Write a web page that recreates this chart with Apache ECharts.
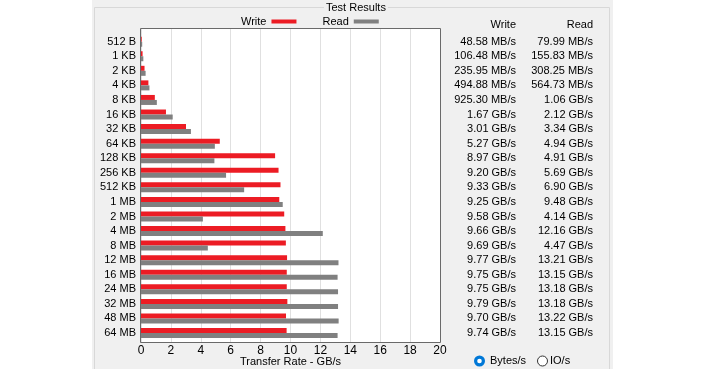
<!DOCTYPE html>
<html><head><meta charset="utf-8">
<script src="https://cdn.jsdelivr.net/npm/echarts@6/dist/echarts.min.js"></script>
<style>html,body{margin:0;padding:0;background:#fff}#c{width:708px;height:369px}</style>
</head><body><div id="c"></div>
<script>
const categories = ['512 B','1 KB','2 KB','4 KB','8 KB','16 KB','32 KB','64 KB','128 KB','256 KB','512 KB','1 MB','2 MB','4 MB','8 MB','12 MB','16 MB','24 MB','32 MB','48 MB','64 MB'];
const writeGBs = [0.04858,0.10648,0.23595,0.49488,0.9253,1.67,3.01,5.27,8.97,9.20,9.33,9.25,9.58,9.66,9.69,9.77,9.75,9.75,9.79,9.70,9.74];
const readGBs = [0.07999,0.15583,0.30825,0.56473,1.06,2.12,3.34,4.94,4.91,5.69,6.90,9.48,4.14,12.16,4.47,13.21,13.15,13.18,13.18,13.22,13.15];
const writeText = ['48.58 MB/s','106.48 MB/s','235.95 MB/s','494.88 MB/s','925.30 MB/s','1.67 GB/s','3.01 GB/s','5.27 GB/s','8.97 GB/s','9.20 GB/s','9.33 GB/s','9.25 GB/s','9.58 GB/s','9.66 GB/s','9.69 GB/s','9.77 GB/s','9.75 GB/s','9.75 GB/s','9.79 GB/s','9.70 GB/s','9.74 GB/s'];
const readText = ['79.99 MB/s','155.83 MB/s','308.25 MB/s','564.73 MB/s','1.06 GB/s','2.12 GB/s','3.34 GB/s','4.94 GB/s','4.91 GB/s','5.69 GB/s','6.90 GB/s','9.48 GB/s','4.14 GB/s','12.16 GB/s','4.47 GB/s','13.21 GB/s','13.15 GB/s','13.18 GB/s','13.18 GB/s','13.22 GB/s','13.15 GB/s'];
const xMin = 0, xMax = 20, xStep = 2;

const FONT = '"Liberation Sans", Arial, sans-serif';
const PLOT = {left:141, top:29, width:299, height:313};
const BANDS = {top:34.4, height:305.9};
const RED = '#ec1c24', GRAY = '#808080';

const chart = echarts.init(document.getElementById('c'), null, {renderer:'canvas'});
chart.setOption({
  animation:false,
  backgroundColor:'#fff',
  textStyle:{fontFamily:FONT},
  title:{text:'Test Results', left:324, top:1, padding:[1,2], backgroundColor:'#f0f0f0',
    textStyle:{fontSize:11, fontWeight:'normal', color:'#000', fontFamily:FONT}},
  legend:{data:['Write','Read'], left:236, top:11, align:'right', icon:'rect', itemWidth:25, itemHeight:4, itemGap:26,
    textStyle:{fontSize:11, color:'#000', fontFamily:FONT}},
  grid:[
    {left:PLOT.left, top:PLOT.top, width:PLOT.width, height:PLOT.height, show:true, backgroundColor:'#fff', borderWidth:0, containLabel:false, outerBoundsMode:'none'},
    {left:PLOT.left, top:BANDS.top, width:PLOT.width, height:BANDS.height, show:false, containLabel:false, outerBoundsMode:'none'}
  ],
  xAxis:[
    {gridIndex:0, type:'value', min:xMin, max:xMax, interval:xStep, position:'bottom',
      axisLine:{show:false, onZero:false}, axisTick:{show:false},
      splitLine:{show:true, lineStyle:{color:'#e0e0e0'}},
      axisLabel:{fontSize:12, color:'#000', margin:3, fontFamily:FONT},
      name:'Transfer Rate - GB/s', nameLocation:'middle', nameGap:14, nameMoveOverlap:false,
      nameTextStyle:{fontSize:11, color:'#000', fontFamily:FONT, verticalAlign:'top'}},
    {gridIndex:1, type:'value', min:xMin, max:xMax, show:false}
  ],
  yAxis:[
    {gridIndex:0, type:'value', min:0, max:1, show:false},
    {gridIndex:1, type:'category', data:categories, inverse:true,
      axisLine:{show:false}, axisTick:{show:false},
      axisLabel:{fontSize:11, color:'#000', margin:5, fontFamily:FONT}}
  ],
  series:[
    {name:'Write', type:'bar', xAxisIndex:1, yAxisIndex:1, data:writeGBs, barWidth:5, barGap:'0%', itemStyle:{color:RED}},
    {name:'Read', type:'bar', xAxisIndex:1, yAxisIndex:1, data:readGBs, barWidth:5, barGap:'0%', itemStyle:{color:GRAY}}
  ]
});

function txt(id, s, x, y, align, size){
  return {type:'text', id:id, z:50, style:{text:s, x:x, y:y, textAlign:align, align:align, textVerticalAlign:'middle', verticalAlign:'middle', font:(size||11)+'px '+FONT, fill:'#000'}};
}
const g = [];
g.push({type:'rect', id:'panel', z:-10, shape:{x:92, y:0, width:521, height:369}, style:{fill:'#f0f0f0'}});
g.push({type:'rect', id:'gbox', z:-9, shape:{x:94.5, y:7.5, width:515, height:400}, style:{fill:null, stroke:'#d8d8d8', lineWidth:1}});
g.push({type:'rect', id:'frame', z:40, shape:{x:PLOT.left-0.5, y:PLOT.top-0.5, width:PLOT.width+1, height:PLOT.height+1}, style:{fill:null, stroke:'#6a6a6a', lineWidth:1}});
g.push(txt('hw','Write',516,25,'right'));
g.push(txt('hr','Read',593,25,'right'));
categories.forEach((c,i)=>{
  const y = chart.convertToPixel({yAxisIndex:1}, c);
  g.push(txt('w'+i, writeText[i], 516, y, 'right'));
  g.push(txt('r'+i, readText[i], 593, y, 'right'));
});
g.push({type:'circle', id:'rb1', z:50, shape:{cx:479.5, cy:361, r:5.5}, style:{fill:'#0078d7'}});
g.push({type:'circle', id:'rb1d', z:51, shape:{cx:479.5, cy:361, r:2.3}, style:{fill:'#fff'}});
g.push(txt('rt1','Bytes/s',490,361,'left'));
g.push({type:'circle', id:'rb2', z:50, shape:{cx:542.5, cy:361, r:5}, style:{fill:'#fff', stroke:'#333', lineWidth:1}});
g.push(txt('rt2','IO/s',550,361,'left'));
chart.setOption({graphic:g});
</script>
</body></html>
